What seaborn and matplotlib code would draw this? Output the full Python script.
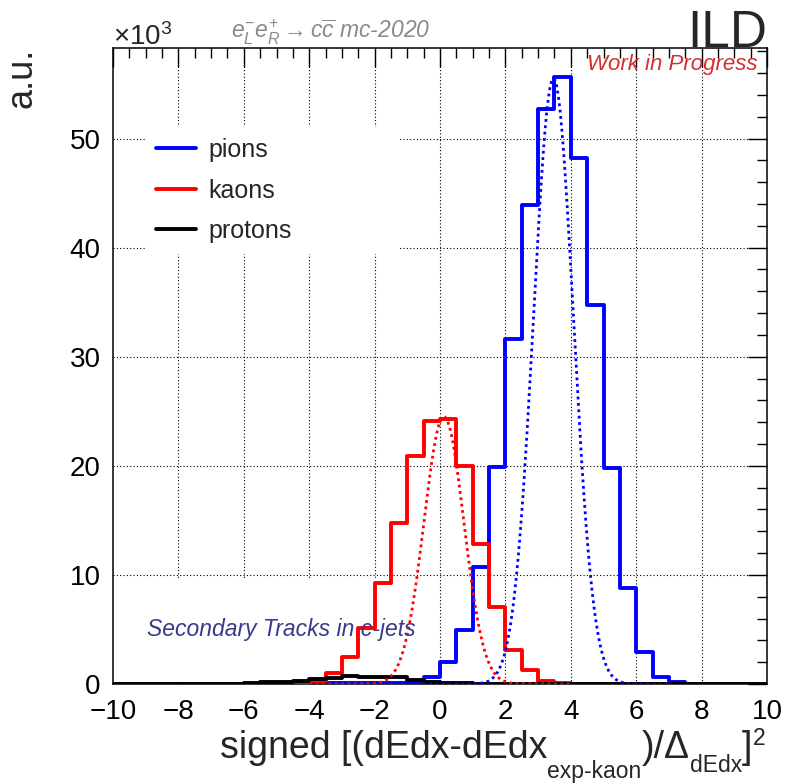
import numpy as np
import pandas as pd
import matplotlib
matplotlib.use('Agg')
import matplotlib.pyplot as plt
import matplotlib.transforms as mtransforms
import seaborn as sns
from matplotlib.patches import Rectangle
from matplotlib.lines import Line2D

# === Data (counts in units of 10^3, bins of 0.5 from -10 to 10) ===
bin_edges = np.arange(-10, 10.01, 0.5)
bin_centers = bin_edges[:-1] + 0.25

pions = [0, 0, 0, 0, 0, 0, 0, 0, 0, 0,                                  # -10 .. -5.5
         0, 0.05, 0.05, 0.05, 0.05, 0.05, 0.05, 0.12, 0.18, 0.67,       # -5 .. -0.5
         2.04, 4.94, 10.7, 19.9, 31.6, 43.9, 52.7, 55.6, 48.2, 34.7,    # 0 .. 4.5
         19.8, 8.76, 2.96, 0.67, 0.15, 0.03, 0, 0, 0, 0]                # 5 .. 9.5

kaons = [0, 0, 0, 0, 0, 0, 0, 0, 0, 0.03,
         0.05, 0.08, 0.3, 0.98, 2.45, 5.1, 9.26, 14.8, 20.9, 24.1,
         24.3, 20.0, 12.85, 7.1, 3.15, 1.28, 0.27, 0.05, 0, 0,
         0, 0, 0, 0, 0, 0, 0, 0, 0, 0]

protons = [0, 0, 0, 0, 0, 0, 0, 0, 0.05, 0.15,
           0.15, 0.24, 0.43, 0.55, 0.7, 0.6, 0.6, 0.6, 0.37, 0.15,
           0.08, 0.05, 0.02, 0, 0, 0, 0, 0, 0, 0,
           0, 0, 0, 0, 0, 0, 0, 0, 0, 0]

# gaussian fits: (amplitude, mean, sigma), fit range
pion_fit = (55.5, 3.47, 0.61)
pion_range = (-1.5, 7.0)
kaon_fit = (24.5, 0.12, 0.61)
kaon_range = (-4.0, 4.0)

series = [("pions", pions, "#0000ff"), ("kaons", kaons, "#ff0000"), ("protons", protons, "#000000")]

# === Style ===
sns.set_style('white')
plt.rcParams['font.family'] = ['Liberation Sans', 'DejaVu Sans']
plt.rcParams['mathtext.fontset'] = 'custom'
plt.rcParams['mathtext.rm'] = 'Liberation Sans'
plt.rcParams['mathtext.it'] = 'Liberation Sans:italic'
plt.rcParams['mathtext.bf'] = 'Liberation Sans:bold'

fig = plt.figure(figsize=(7.86, 7.84), dpi=100)
ax = fig.add_axes([113 / 786, 100 / 784, 654 / 786, 636 / 784])

# === Histograms ===
for name, vals, col in series:
    df = pd.DataFrame({'x': bin_centers, 'w': vals})
    sns.histplot(data=df, x='x', weights='w', binwidth=0.5, binrange=(-10, 10), element='step',
                 fill=False, color=col, linewidth=2.8, ax=ax, zorder=3)

# === Fits ===
for (amp, mu, sig), (lo, hi), col in [(pion_fit, pion_range, "#0000ff"), (kaon_fit, kaon_range, "#ff0000")]:
    xs = np.linspace(lo, hi, 400)
    ys = amp * np.exp(-0.5 * ((xs - mu) / sig) ** 2)
    sns.lineplot(x=xs, y=ys, color=col, linestyle=(0, (1.0, 1.3)), linewidth=2.0, ax=ax, zorder=4)

ax.set_xlim(-10, 10)
ax.set_ylim(0, 58.3)
ax.set_xticks(np.arange(-10, 10.1, 2))
ax.set_yticks(np.arange(0, 51, 10))
ax.xaxis.set_minor_locator(matplotlib.ticker.MultipleLocator(0.5))
ax.yaxis.set_minor_locator(matplotlib.ticker.MultipleLocator(2))

# grid by hand so the text box can hide it
for xv in np.arange(-8, 9, 2):
    ax.axvline(xv, color='black', linestyle=(0, (1, 2)), linewidth=0.8, zorder=0.8)
for yv in np.arange(10, 51, 10):
    ax.axhline(yv, color='black', linestyle=(0, (1, 2)), linewidth=0.8, zorder=0.8)

ax.add_patch(Rectangle((0, 0.004), 0.47, 0.162, transform=ax.transAxes,
                       facecolor='white', edgecolor='none', zorder=0.9))

ax.tick_params(which='both', direction='in', top=True, right=True, width=1, colors='black',
               labelsize=20)
ax.tick_params(which='major', length=13.5, pad=9)
ax.tick_params(which='minor', length=7)
ax.tick_params(axis='x', which='major', pad=11)
for sp in ax.spines.values():
    sp.set_linewidth(1.1)
    sp.set_color('black')

# === Labels ===
ax.set_xlabel("")
ax.set_ylabel("a.u.", fontsize=26, loc='top')
ax.yaxis.set_label_coords(-0.112, 1.0)

# x title built piece by piece (ROOT-like low subscripts), right aligned
xtitle = [("]", 27, 0), ("dEdx", 16.5, -10), (")/\u0394", 27, 0), ("exp-kaon", 16.5, -14.5),
          ("signed [(dEdx-dEdx", 27, 0)]
renderer = fig.canvas.get_renderer()
sup = fig.text(765 / 786, 26 / 784, "2", fontsize=16.5, ha='right', va='baseline',
               transform=mtransforms.offset_copy(fig.transFigure, fig, y=9.5, units='points'))
cursor = sup.get_window_extent(renderer).x0
for txt, fs, dy in xtitle:
    t = fig.text(cursor / fig.bbox.width, 26 / 784, txt, fontsize=fs, ha='right', va='baseline',
                 transform=mtransforms.offset_copy(fig.transFigure, fig, y=dy, units='points'))
    cursor = t.get_window_extent(renderer).x0

ax.text(0.0, 1.005, r"$\times$10$^{3}$", transform=ax.transAxes, fontsize=20, va='baseline', ha='left')
fig.text(0.421, 0.9515, r"$e^{-}_{L}e^{+}_{R}\rightarrow c\overline{c}$ mc-2020", color='#8a8a8a',
         fontsize=16.5, style='italic', ha='center', va='baseline')
ax.text(1.0, 1.002, "ILD", transform=ax.transAxes, fontsize=37, ha='right', va='baseline')
ax.text(0.986, 0.9654, "Work in Progress", transform=ax.transAxes, fontsize=16, style='italic',
        color='#d42f2f', ha='right', va='baseline', zorder=6)
ax.text(0.052, 0.0755, "Secondary Tracks in c-jets", transform=ax.transAxes, fontsize=16.5,
        style='italic', color='#3a3a8c', ha='left', va='baseline', zorder=6)

# === Legend ===
handles = [Line2D([], [], color=c, linewidth=2.8) for _, _, c in series]
leg = ax.legend(handles, [n for n, _, _ in series], loc='upper left',
                bbox_to_anchor=(0.049, 0.679, 0.387, 0.197), mode='expand',
                fontsize=18, frameon=True, fancybox=False, framealpha=1, facecolor='white',
                edgecolor='none', handlelength=1.6, handletextpad=0.5, labelspacing=0.66,
                borderpad=0.45, borderaxespad=0)
leg.set_zorder(5)

fig.savefig("out.png", dpi=100)
